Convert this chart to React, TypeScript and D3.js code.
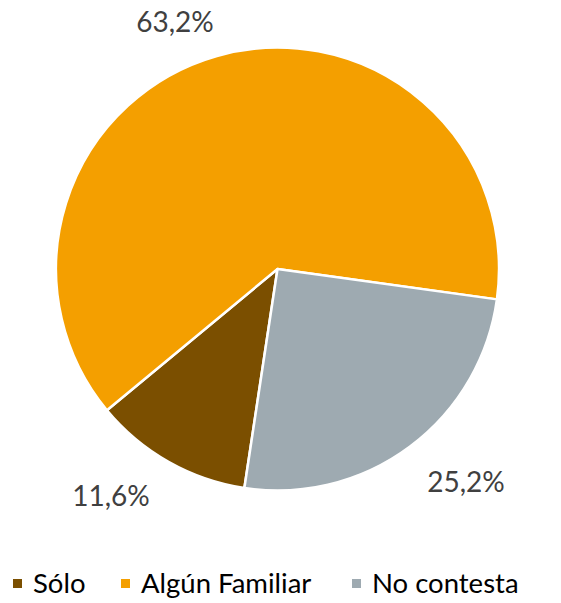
import * as d3 from 'd3';

const categories = ['Sólo', 'Algún Familiar', 'No contesta'];
const values = [11.6, 63.2, 25.2];
const valueLabels = ['11,6%', '63,2%', '25,2%'];
const colors = ['#7B4F00', '#F49F00', '#9EAAB1'];

const width = 561;
const height = 603;
const cx = 277.5;
const cy = 269;
const radius = 221.5;
const startDeg = 188.6;

// label anchor (center x, baseline y) picked to sit like Excel's outside-end labels
const labelPos = [
  { x: 111, y: 506 },
  { x: 175, y: 32 },
  { x: 466, y: 492 },
];

const legendX = [13, 121, 352];

export default function App() {
  const pie = d3
    .pie<number>()
    .sort(null)
    .value(d => d)
    .startAngle((startDeg * Math.PI) / 180)
    .endAngle((startDeg * Math.PI) / 180 + 2 * Math.PI);

  const arc = d3.arc<d3.PieArcDatum<number>>().innerRadius(0).outerRadius(radius);
  const arcs = pie(values);

  return (
    <svg
      width={width}
      height={height}
      style={{ position: 'absolute', left: 0, top: 0, fontFamily: 'Lato, sans-serif' }}
    >
      <rect width={width} height={height} fill="#fff" />
      <g transform={`translate(${cx},${cy})`}>
        {arcs.map((a, i) => (
          <path
            key={categories[i]}
            d={arc(a) ?? ''}
            fill={colors[i]}
            stroke="#fff"
            strokeWidth={2.5}
            strokeLinejoin="round"
          />
        ))}
      </g>

      {valueLabels.map((t, i) => (
        <text
          key={t}
          x={labelPos[i].x}
          y={labelPos[i].y}
          textAnchor="middle"
          fontSize={28}
          fill="#404040"
        >
          {t}
        </text>
      ))}

      {/* Legend */}
      {categories.map((c, i) => (
        <g key={c} transform={`translate(${legendX[i]},0)`}>
          <rect x={0} y={579} width={9} height={9} fill={colors[i]} />
          <text x={20} y={593} fontSize={27.5} fill="#000">
            {c}
          </text>
        </g>
      ))}
    </svg>
  );
}
